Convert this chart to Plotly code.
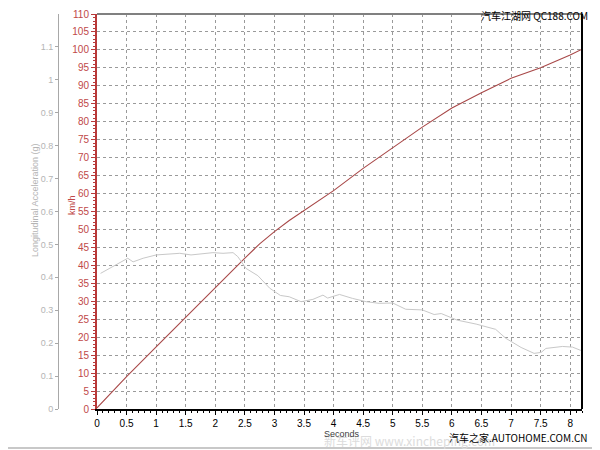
import plotly.graph_objects as go

# Speed (km/h) vs time (s)
speed_time = [0, 0.5, 1.0, 1.5, 2.0, 2.5, 2.75, 3.0, 3.25, 3.5, 4.0, 4.5, 5.0, 5.5, 6.0, 6.5, 7.0, 7.25, 7.5, 8.0, 8.2]
speed_kmh = [0.3, 9.0, 17.3, 25.6, 33.8, 42.0, 46.0, 49.4, 52.5, 55.2, 60.8, 67.0, 72.8, 78.5, 83.8, 88.1, 92.1, 93.5, 95.0, 98.6, 100.2]

# Longitudinal acceleration (g) vs time (s)
acc_time = [0.06, 0.30, 0.52, 0.61, 0.78, 1.00, 1.19, 1.40, 1.59, 1.76, 1.96, 2.13, 2.30, 2.38, 2.52,
            2.72, 2.92, 3.10, 3.25, 3.45, 3.65, 3.82, 3.90, 4.10, 4.32, 4.55, 4.77, 5.00, 5.22, 5.50,
            5.70, 5.82, 6.09, 6.41, 6.74, 6.91, 7.17, 7.39, 7.51, 7.59, 7.87, 8.04, 8.18]
acc_g = [0.412, 0.437, 0.458, 0.447, 0.458, 0.468, 0.471, 0.473, 0.468, 0.471, 0.475, 0.473, 0.475, 0.463, 0.427,
         0.405, 0.367, 0.345, 0.341, 0.326, 0.333, 0.346, 0.337, 0.348, 0.336, 0.326, 0.321, 0.322, 0.303, 0.301,
         0.287, 0.290, 0.270, 0.258, 0.242, 0.215, 0.187, 0.169, 0.172, 0.184, 0.190, 0.188, 0.178]

x_ticks = [i * 0.5 for i in range(17)]
g_ticks = [0, 0.1, 0.2, 0.3, 0.4, 0.5, 0.6, 0.7, 0.8, 0.9, 1, 1.1]
g_labels = ["0", "0.1", "0.2", "0.3", "0.4", "0.5", "0.6", "0.7", "0.8", "0.9", "1", "1.1"]

RED = "#b83a3a"
GRID = "#9a9a9a"

fig = go.Figure()
fig.add_trace(go.Scatter(x=acc_time, y=acc_g, yaxis="y2", mode="lines",
                         line=dict(color="#c8c8c8", width=1), showlegend=False, hoverinfo="skip"))
fig.add_trace(go.Scatter(x=speed_time, y=speed_kmh, yaxis="y", mode="lines",
                         line=dict(color="#a84848", width=1.1), showlegend=False))

# page has an 8px body margin; work in figure pixels
OFF = 8
W, H = 600 - OFF, 450 - OFF
L, T = 58 - OFF, 14 - OFF
R = W - (582 - OFF)
B = H - (409 - OFF)
pw = W - L - R
ph = H - T - B
x0 = (97 - 58) / pw


def px_x(p):
    return (p - OFF - L) / pw


def px_y(p):
    return (409 - p) / ph


fig.update_layout(
    width=W, height=H,
    margin=dict(l=L, r=R, t=T, b=B, autoexpand=False),
    paper_bgcolor="white", plot_bgcolor="white",
    font=dict(family="Liberation Sans, Arial, sans-serif", size=10, color="black"),
    xaxis=dict(domain=[x0, 1], range=[0, 8.2], tickvals=x_ticks, showgrid=True, automargin=False,
               gridcolor=GRID, griddash="dot", gridwidth=1, zeroline=False,
               showline=True, linecolor="black", linewidth=2,
               ticks="outside", ticklen=4, tickcolor="black",
               tickfont=dict(size=10, color="black"),
               minor=dict(dtick=0.1, ticks="outside", ticklen=2, tickcolor="black", showgrid=False)),
    yaxis=dict(range=[0, 110], dtick=5, tick0=0, anchor="x", side="left", automargin=False,
               showgrid=True, gridcolor=GRID, griddash="dot", gridwidth=1, zeroline=False,
               showline=True, linecolor=RED, linewidth=2,
               ticks="outside", ticklen=4, tickcolor=RED,
               tickfont=dict(size=10, color="#c04848"),
               minor=dict(dtick=1, ticks="outside", ticklen=2, tickcolor=RED, showgrid=False)),
    yaxis2=dict(range=[0, 1.2], overlaying="y", anchor="free", position=0, side="left", automargin=False,
                tickvals=g_ticks, ticktext=g_labels, showgrid=False, zeroline=False,
                showline=True, linecolor="#a8a8a8", linewidth=1,
                ticks="outside", ticklen=3, tickcolor="#a8a8a8",
                tickfont=dict(size=9, color="#b4b4b4")),
)

# frame lines (top gray, right black)
fig.add_shape(type="line", xref="x domain", yref="paper", x0=0, x1=1, y0=1, y1=1,
              line=dict(color="#808080", width=2))
fig.add_shape(type="line", xref="x domain", yref="paper", x0=1, x1=1, y0=0, y1=1,
              line=dict(color="black", width=2))
# bottom gray band of the image
fig.add_shape(type="line", xref="paper", yref="paper", x0=px_x(0), x1=px_x(600),
              y0=px_y(448), y1=px_y(448), line=dict(color="#c8c8c8", width=2))


def label(text, x, y, size, color, family=None, angle=0, xanchor="center"):
    f = dict(size=size, color=color)
    if family:
        f["family"] = family
    fig.add_annotation(text=text, xref="paper", yref="paper", x=px_x(x), y=px_y(y),
                       xanchor=xanchor, yanchor="middle", textangle=angle,
                       showarrow=False, font=f)


# axis titles
label("Longitudinal Acceleration (g)", 35, 200, 9, "#b4b4b4", angle=-90)
label("km/h", 72, 205, 9, "#c04848", angle=-90)

# watermarks and x title
label("新车评网 www.xincheping.com", 322, 440, 12, "#dcdcdc", "Noto Sans CJK SC, DejaVu Sans", xanchor="left")
label("Seconds", 342, 434, 9, "#404040")
label("汽车之家.AUTOHOME.COM.CN", 590, 437, 10, "black", "Noto Sans CJK SC, DejaVu Sans Mono", xanchor="right")
label("汽车江湖网 QC188.COM", 590, 15, 10, "black", "Noto Sans CJK SC, DejaVu Sans Mono", xanchor="right")

fig.write_html("out.html")
